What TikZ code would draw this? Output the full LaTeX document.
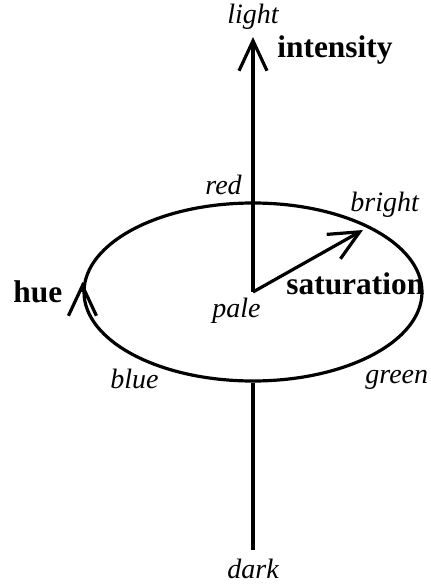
\documentclass[tikz,border=0pt]{standalone}
\usepackage{fontspec}
\setmainfont{Liberation Serif}
\usetikzlibrary{arrows.meta,shapes.geometric}
\begin{document}
\begin{tikzpicture}[x=0.5pt,y=-0.5pt,
  line/.style={line width=1.6pt},
  barb/.style={-{Straight Barb[length=15pt,width=14pt]}},
  lbl/.style={font=\fontsize{14}{16}\selectfont\itshape, inner sep=0pt, anchor=base west},
  big/.style={font=\fontsize{15.7}{18}\selectfont\bfseries, inner sep=0pt, anchor=base west}]
\useasboundingbox (0,0) rectangle (430,588);
\node[ellipse, draw, line, inner sep=0pt, minimum width=169pt, minimum height=89pt] (wheel) at (253,292) {};
\coordinate (pale) at (253,292);
\coordinate (top) at (253,37);
\coordinate (bottom) at (253,550);
\coordinate (brighttip) at (363,230);
\draw[line, barb] (pale) -- (top);
\draw[line] (wheel.south) -- (bottom);
\draw[line, barb] (pale) -- (brighttip);
\draw[line, barb] (wheel.west) -- ([yshift=5pt]wheel.west);
\node[lbl] (light) at (227,24) {light};
\node[big] (intensity) at (277,58) {intensity};
\node[lbl] (red) at (205,195) {red};
\node[lbl] (bright) at (350,212) {bright};
\node[big] (hue) at (13,302) {hue};
\node[big] (saturation) at (286,294) {saturation};
\node[lbl] (palelbl) at (212,317) {pale};
\node[lbl] (blue) at (110,388) {blue};
\node[lbl] (green) at (365,383) {green};
\node[lbl] (dark) at (227,578) {dark};
\end{tikzpicture}
\end{document}
